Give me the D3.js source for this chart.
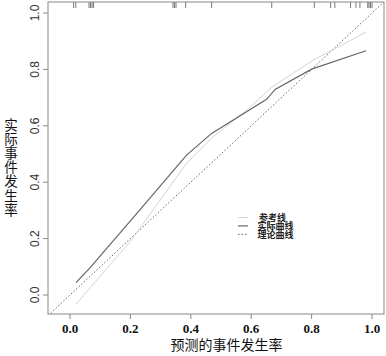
<!DOCTYPE html>
<html lang="zh-CN">
<head>
<meta charset="utf-8">
<script src="https://cdn.jsdelivr.net/npm/d3@7"></script>
<style>
body{margin:0;background:#fff;}
.cjk{font-family:"Noto Sans CJK SC","Noto Sans CJK JP",sans-serif;}
</style>
</head>
<body>
<div id="chart"></div>
<script>
// calibration data
var xTicks = [0, 0.2, 0.4, 0.6, 0.8, 1.0];
var yTicks = [0, 0.2, 0.4, 0.6, 0.8, 1.0];

// 实际曲线 (apparent)
var actualX = [0.02, 0.066, 0.23, 0.386, 0.469, 0.651, 0.679, 0.80, 0.98];
var actualY = [0.044, 0.096, 0.30, 0.496, 0.573, 0.694, 0.729, 0.801, 0.866];

// 参考线 (bias-corrected)
var refX = [0.02, 0.20, 0.386, 0.469, 0.585, 0.673, 0.806, 0.98];
var refY = [-0.032, 0.19, 0.467, 0.556, 0.656, 0.741, 0.833, 0.932];

// rug of predicted values at top
var rugX = [0.012, 0.019, 0.063, 0.068, 0.073, 0.078, 0.341, 0.346, 0.351, 0.383, 0.469, 0.668,
            0.809, 0.863, 0.877, 0.929, 0.947, 0.960, 0.986, 0.990, 0.995, 1.000];

var legendLabels = ["参考线", "实际曲线", "理论曲线"];

var W = 386, H = 356;
var box = {left:48, right:384, top:2, bottom:314};

var x = d3.scaleLinear().domain([0, 1]).range([70, 372]);
var y = d3.scaleLinear().domain([0, 1]).range([295, 13]);

var svg = d3.select("#chart").append("svg").attr("width", W).attr("height", H);

svg.append("defs").append("clipPath").attr("id", "clip")
	.append("rect").attr("x", box.left).attr("y", box.top)
	.attr("width", box.right - box.left).attr("height", box.bottom - box.top);

var plot = svg.append("g").attr("clip-path", "url(#clip)");

//ideal line y = x across the whole box
var lo = x.invert(box.left), hi = x.invert(box.right);
plot.append("line")
	.attr("x1", x(lo)).attr("y1", y(lo)).attr("x2", x(hi)).attr("y2", y(hi))
	.attr("stroke", "#666").attr("stroke-width", 1).attr("stroke-dasharray", "1.5,2");

var line = d3.line().x(function(d){return x(d[0])}).y(function(d){return y(d[1])});

plot.append("path").datum(d3.zip(refX, refY)).attr("d", line)
	.attr("fill", "none").attr("stroke", "#d4d4d4").attr("stroke-width", 1);

plot.append("path").datum(d3.zip(actualX, actualY)).attr("d", line)
	.attr("fill", "none").attr("stroke", "#666").attr("stroke-width", 1.2);

//rug
plot.selectAll("line.rug").data(rugX).enter().append("line").classed("rug", true)
	.attr("x1", function(d){return x(d)}).attr("x2", function(d){return x(d)})
	.attr("y1", box.top).attr("y2", box.top + 6)
	.attr("stroke", "#555").attr("stroke-width", 0.8);

//box
svg.append("rect").attr("x", box.left).attr("y", box.top)
	.attr("width", box.right - box.left).attr("height", box.bottom - box.top)
	.attr("fill", "none").attr("stroke", "#888").attr("stroke-width", 1);

//x axis
var xa = svg.append("g");
xa.selectAll("line").data(xTicks).enter().append("line")
	.attr("x1", function(d){return x(d)}).attr("x2", function(d){return x(d)})
	.attr("y1", box.bottom).attr("y2", box.bottom + 5)
	.attr("stroke", "#888");
xa.selectAll("text").data(xTicks).enter().append("text")
	.attr("x", function(d){return x(d)}).attr("y", 332.5)
	.attr("text-anchor", "middle")
	.style("font-family", "Liberation Serif").style("font-weight", "bold").style("font-size", "13px")
	.attr("fill", "#111")
	.text(function(d){return d3.format(".1f")(d)});

//y axis
var ya = svg.append("g");
ya.selectAll("line").data(yTicks).enter().append("line")
	.attr("x1", box.left - 5).attr("x2", box.left)
	.attr("y1", function(d){return y(d)}).attr("y2", function(d){return y(d)})
	.attr("stroke", "#888");
ya.selectAll("text").data(yTicks).enter().append("text")
	.attr("transform", function(d){return "translate(39," + y(d) + ") rotate(-90)"})
	.attr("text-anchor", "middle")
	.style("font-family", "Liberation Sans").style("font-size", "12px")
	.attr("fill", "#333")
	.text(function(d){return d3.format(".1f")(d)});

//titles
svg.append("text").classed("cjk", true).attr("x", 226.5).attr("y", 350).attr("text-anchor", "middle")
	.style("font-size", "14px").attr("fill", "#111")
	.text("预测的事件发生率");

//y title: upright characters stacked top to bottom
svg.append("text").classed("cjk", true)
	.attr("x", 11).attr("y", 167.5)
	.attr("text-anchor", "middle")
	.style("writing-mode", "vertical-rl").style("text-orientation", "upright")
	.style("letter-spacing", "0.6px")
	.style("font-size", "13.5px").attr("fill", "#111")
	.text("实际事件发生率");

//legend
var legStyles = [
	{stroke:"#d4d4d4", dash:null, w:1},
	{stroke:"#666", dash:null, w:1.2},
	{stroke:"#666", dash:"1.5,2", w:1}
];
var legY = 217.5, legStep = 8.4;
svg.append("g").selectAll("line").data(legendLabels).enter().append("line")
	.attr("x1", 238).attr("x2", 248)
	.attr("y1", function(d, i){return legY + i * legStep}).attr("y2", function(d, i){return legY + i * legStep})
	.attr("stroke", function(d, i){return legStyles[i].stroke})
	.attr("stroke-width", function(d, i){return legStyles[i].w})
	.attr("stroke-dasharray", function(d, i){return legStyles[i].dash});
svg.append("text").classed("cjk", true).attr("y", legY + 3.3)
	.style("font-weight", "bold").style("font-size", "9px").attr("fill", "#222")
	.selectAll("tspan").data(legendLabels).enter().append("tspan")
	.attr("x", function(d, i){return i == 0 ? 259 : 257.5})
	.attr("dy", function(d, i){return i == 0 ? 0 : legStep})
	.text(function(d){return d});
</script>
</body>
</html>
